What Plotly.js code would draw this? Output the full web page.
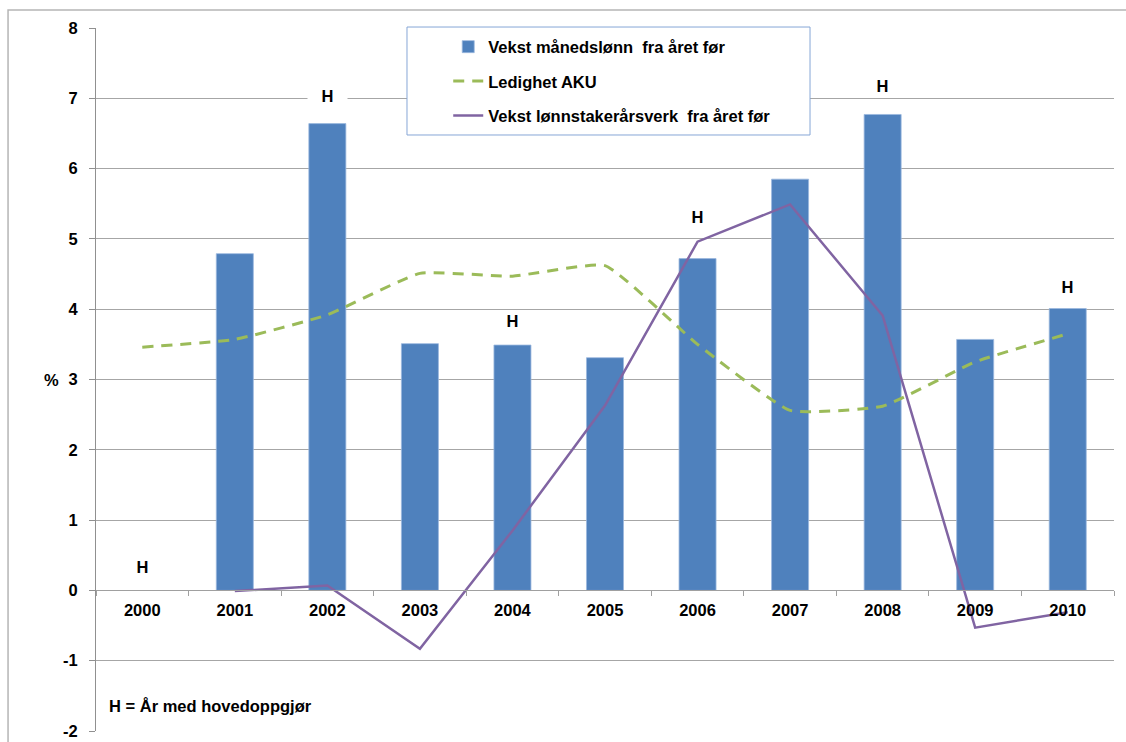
<!DOCTYPE html>
<html>
<head>
<meta charset="utf-8">
<script src="https://cdn.plot.ly/plotly-3.0.1.min.js"></script>
<style>
  body { margin: 0; background: #fff; }
  #chart { width: 1126px; height: 742px; }
</style>
</head>
<body>
<div id="chart"></div>
<script>
const years = ['2000', '2001', '2002', '2003', '2004', '2005', '2006', '2007', '2008', '2009', '2010']
const wageGrowth = [null, 4.79, 6.64, 3.51, 3.49, 3.31, 4.72, 5.85, 6.77, 3.57, 4.01]
const unemployment = [3.46, 3.57, 3.92, 4.51, 4.47, 4.62, 3.50, 2.56, 2.62, 3.25, 3.65]
const employmentGrowth = [null, -0.01, 0.07, -0.83, 0.85, 2.63, 4.96, 5.49, 3.91, -0.53, -0.31]
const hYears = ['2000', '2002', '2004', '2006', '2008', '2010']
const hPos = [0.33, 7.03, 3.83, 5.31, 7.17, 4.31]
const yTickVals = [-2, -1, 0, 1, 2, 3, 4, 5, 6, 7, 8]
const yTickText = ['-2', '-1', '0', '1', '2', '3', '4', '5', '6', '7', '8']

const fontFamily = '"Liberation Sans", Arial, sans-serif'
const fs = 16.5

const data = [
  {
    x: years,
    y: wageGrowth,
    type: 'bar',
    name: 'Vekst månedslønn  fra året før',
    legendgroup: 'a',
    marker: { color: '#4F81BD', line: { color: '#9bb8de', width: 0.8 } }
  },
  {
    x: years,
    y: unemployment,
    type: 'scatter',
    mode: 'lines',
    name: 'Ledighet AKU',
    legendgroup: 'b',
    line: { color: '#9BBB59', width: 3, dash: '11px,8px', shape: 'spline', smoothing: 0.4 }
  },
  {
    x: years,
    y: employmentGrowth,
    type: 'scatter',
    mode: 'lines',
    name: 'Vekst lønnstakerårsverk  fra året før',
    legendgroup: 'c',
    line: { color: '#8064A2', width: 2.5 }
  }
]

// category axis: annotations need the category index, not the label
const annotations = hYears.map((yr, i) => ({
  x: years.indexOf(yr),
  y: hPos[i],
  xref: 'x',
  yref: 'y',
  text: 'H',
  showarrow: false,
  bgcolor: '#ffffff',
  width: 37,
  font: { size: fs, color: '#000', weight: 'bold' }
}))

annotations.push({
  xref: 'paper', yref: 'y',
  x: -0.053, y: 3,
  text: '%',
  showarrow: false,
  font: { size: fs, color: '#000', weight: 'bold' }
})

annotations.push({
  xref: 'paper', yref: 'y',
  x: 0.0108, y: -1.64,
  xanchor: 'left',
  text: 'H = År med hovedoppgjør',
  showarrow: false,
  font: { size: fs, color: '#000', weight: 'bold' }
})

const layout = {
  width: 1126,
  height: 742,
  margin: { l: 96, r: 12, t: 28, b: 11 },
  paper_bgcolor: '#ffffff',
  plot_bgcolor: '#ffffff',
  font: { family: fontFamily, size: fs, color: '#000', weight: 'bold' },
  bargap: 0.6,
  xaxis: {
    type: 'category',
    range: [-0.5, 10.5],
    anchor: 'free',
    position: 0.2,
    showline: true,
    linecolor: '#a0a0a0',
    ticks: 'outside',
    tickson: 'boundaries',
    ticklen: 5,
    tickcolor: '#a0a0a0',
    ticklabelstandoff: 5,
    showgrid: false,
    tickfont: { size: fs, weight: 'bold' }
  },
  yaxis: {
    range: [-2, 8],
    tickmode: 'array',
    tickvals: yTickVals,
    ticktext: yTickText,
    showgrid: true,
    gridcolor: '#a6a6a6',
    zeroline: false,
    showline: true,
    linecolor: '#909090',
    ticks: 'outside',
    ticklen: 6,
    tickcolor: '#909090',
    ticklabelstandoff: 8,
    tickfont: { size: fs, weight: 'bold' }
  },
  showlegend: true,
  legend: {
    x: 0.346,
    y: 0.998,
    xanchor: 'left',
    yanchor: 'top',
    bgcolor: 'rgba(0,0,0,0)',
    traceorder: 'grouped',
    tracegroupgap: 10,
    font: { size: fs, weight: 'bold' }
  },
  shapes: [
    {
      type: 'rect', xref: 'paper', yref: 'paper',
      x0: -0.0864, x1: 1.05, y0: -0.05, y1: 1.0256,
      line: { color: '#b5b5b5', width: 1.5 },
      layer: 'below'
    },
    {
      type: 'rect', xref: 'paper', yref: 'paper',
      x0: 0.3055, x1: 0.7014, y0: 0.8478, y1: 1.0014,
      line: { color: '#86a6d6', width: 1 },
      fillcolor: '#ffffff',
      layer: 'above'
    }
  ],
  annotations
}

Plotly.newPlot('chart', data, layout, { displayModeBar: false, staticPlot: true })
</script>
</body>
</html>
